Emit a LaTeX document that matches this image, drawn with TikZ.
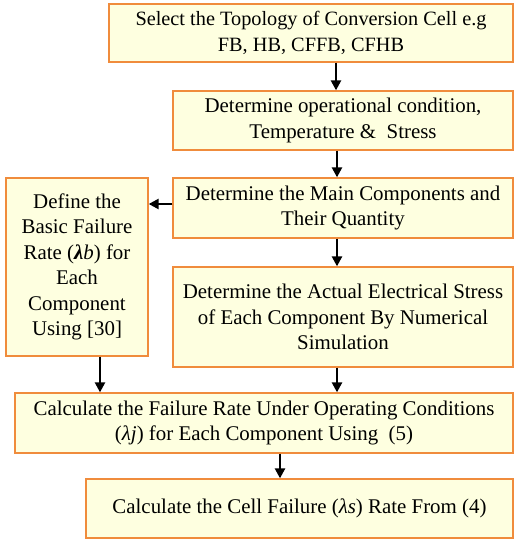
\documentclass[tikz,border=0pt]{standalone}
\usepackage{fontspec}
\setmainfont{Liberation Serif}
\usetikzlibrary{arrows.meta}
\definecolor{boxfill}{RGB}{254,255,224}
\definecolor{boxline}{RGB}{240,140,60}
\tikzset{
  box/.style={draw=boxline, fill=boxfill, line width=1.3bp, align=center, inner sep=0pt,
    font=\fontsize{20.9bp}{25.5bp}\selectfont},
  arr/.style={line width=2.4bp, -{Triangle[width=10bp,length=10bp]}}
}
\begin{document}
\begin{tikzpicture}[x=1bp,y=-1bp]
\useasboundingbox (0,0) rectangle (515,542);
\node[box, minimum width=404bp, minimum height=58bp, font=\fontsize{20.3bp}{25.5bp}\selectfont] (b1) at (311,33) {Select the Topology of Conversion Cell e.g\\FB, HB, CFFB, CFHB};
\node[box, minimum width=340bp, minimum height=59bp] (b2) at (343,120.5) {Determine operational condition,\\Temperature \&\ \ Stress};
\node[box, minimum width=340bp, minimum height=60bp] (b3) at (343,208) {Determine the Main Components and\\Their Quantity};
\node[box, minimum width=142bp, minimum height=178bp] (bl) at (77,267) {Define the\\Basic Failure\\Rate (\textbf{\textit{λ}}\textit{b}) for\\Each\\Component\\Using [30]};
\node[box, minimum width=340bp, minimum height=100bp] (b4) at (343,317) {Determine the Actual Electrical Stress\\of Each Component By Numerical\\Simulation};
\node[box, minimum width=498bp, minimum height=60bp] (b5) at (264,423) {Calculate the Failure Rate Under Operating Conditions\\(\textit{λj}) for Each Component Using\ \ (5)};
\node[box, minimum width=427bp, minimum height=59bp] (b6) at (299.5,508.5) {Calculate the Cell Failure (\textit{λs}) Rate From (4)};
\coordinate (x1) at (336,0);
\coordinate (x2) at (337,0);
\coordinate (xl) at (100,0);
\coordinate (x5) at (280,0);
\coordinate (y3) at (0,204);
\draw[arr] (b1.south -| x1) -- (b2.north -| x1);
\draw[arr] (b2.south -| x2) -- (b3.north -| x2);
\draw[arr] (b3.west |- y3) -- (bl.east |- y3);
\draw[arr] (b3.south -| x2) -- (b4.north -| x2);
\draw[arr] (bl.south -| xl) -- (b5.north -| xl);
\draw[arr] (b4.south -| x2) -- (b5.north -| x2);
\draw[arr] (b5.south -| x5) -- (b6.north -| x5);
\end{tikzpicture}
\end{document}
